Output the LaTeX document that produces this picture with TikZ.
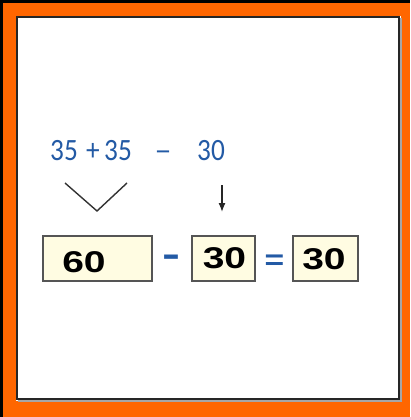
\documentclass[tikz,border=0pt]{standalone}
\usepackage{fontspec}
\setmainfont{Liberation Sans}
\newfontfamily\topfont{Carlito}
\usetikzlibrary{arrows.meta}
\definecolor{frameorange}{RGB}{255,102,0}
\definecolor{mathblue}{RGB}{35,90,165}
\definecolor{boxfill}{RGB}{255,252,226}
\definecolor{boxedge}{RGB}{85,85,85}
\tikzset{
  numbox/.style={draw=boxedge, line width=2.4pt, fill=boxfill, inner sep=0pt, minimum height=45pt},
  boxnum/.style={inner sep=0pt, font=\fontsize{30}{30}\selectfont\bfseries, text=black},
  toptext/.style={inner sep=0pt, anchor=base, text=mathblue, font=\topfont\fontsize{31}{31}\selectfont},
  opsign/.style={inner sep=0pt, text=mathblue, font=\fontsize{28}{28}\selectfont\bfseries},
  chevron/.style={draw=black!80, line width=1.4pt},
  downarrow/.style={draw=black!85, line width=1.3pt, -{Latex[length=9pt,width=7pt]}}
}
\begin{document}
\begin{tikzpicture}[x=1pt,y=-1pt]
\useasboundingbox (0,0) rectangle (410,417);
% frame
\fill[black] (0,0) rectangle (410,417);
\fill[frameorange] (3,3) rectangle (410,417);
\fill[white] (16,16) rectangle (401,401);
\draw[black!35, line width=1.5pt] (401,18) -- (401,401) -- (18,401);
\draw[black!85, line width=2pt] (17,17) rectangle (399,399);
% top expression
\node[toptext] (n1) at (64,160) {\scalebox{0.88}[1]{35}};
\node[toptext] (plus) at (93,160) {\scalebox{0.88}[1]{+}};
\node[toptext] (n2) at (118,160) {\scalebox{0.88}[1]{35}};
\node[toptext] (minus) at (163,160) {\scalebox{1.1}[1]{–}};
\node[toptext] (n3) at (211,160) {\scalebox{0.88}[1]{30}};
% connectors
\coordinate (c1) at (65,183);
\coordinate (c2) at (97,211);
\coordinate (c3) at (127,183);
\draw[chevron] (c1) -- (c2) -- (c3);
\coordinate (a1) at (222,185);
\coordinate (a2) at (222,212);
\draw[downarrow] (a1) -- (a2);
% boxes
\node[numbox, minimum width=109pt] (b1) at (97.5,258.5) {};
\node[numbox, minimum width=63pt] (b2) at (223.5,258.5) {};
\node[numbox, minimum width=65pt] (b3) at (325.5,258.5) {};
\node[boxnum] (t1) at (84,262) {\scalebox{1.3}[1]{60}};
\node[boxnum] (t2) at (224.5,258) {\scalebox{1.3}[1]{30}};
\node[boxnum] (t3) at (324,259) {\scalebox{1.3}[1]{30}};
% operators
\node[opsign, font=\fontsize{36}{36}\selectfont\bfseries] (op1) at (171,261) {\scalebox{1.5}[1]{-}};
\node[opsign] (op2) at (274.5,262.5) {\scalebox{1.2}[1]{=}};
\end{tikzpicture}
\end{document}
